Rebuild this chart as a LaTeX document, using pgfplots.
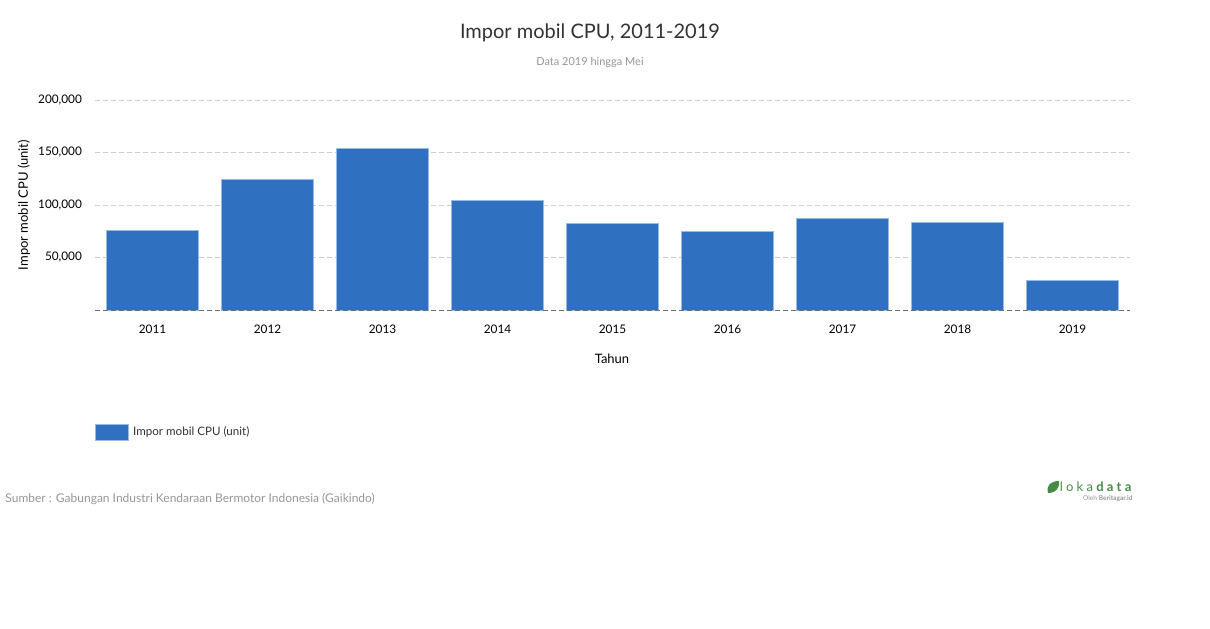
\documentclass[border=0pt]{standalone}
\usepackage{fontspec}
\setmainfont{Lato}
\usepackage{pgfplots}
\pgfplotsset{compat=1.18}
\definecolor{barblue}{RGB}{48,112,192}
\definecolor{baredge}{RGB}{150,188,230}
\definecolor{gridgray}{RGB}{204,204,204}
\definecolor{zerogray}{RGB}{110,110,110}
\definecolor{titlegray}{RGB}{51,51,51}
\definecolor{subgray}{RGB}{150,150,150}
\definecolor{lokagreen}{RGB}{70,140,70}
\begin{document}
\begin{tikzpicture}
\path[use as bounding box] (0,0) rectangle (605pt,314pt);
\begin{axis}[
  at={(47.5pt,159pt)}, anchor=south west,
  scale only axis, width=517.5pt, height=105pt,
  xmin=-0.5, xmax=8.5, ymin=0, ymax=200000,
  ybar, bar width=46pt, bar shift=0pt,
  axis line style={draw=none},
  major tick length=0pt,
  xtick={0,...,8},
  xticklabels={2011,2012,2013,2014,2015,2016,2017,2018,2019},
  xticklabel style={font=\fontsize{5.9pt}{7pt}\selectfont, text=black, yshift=-4pt},
  ytick={0,50000,100000,150000,200000},
  yticklabels={,{50,000},{100,000},{150,000},{200,000}},
  yticklabel style={font=\fontsize{5.9pt}{7pt}\selectfont, text=black, xshift=-3pt},
  scaled y ticks=false,
  ymajorgrids,
  major grid style={draw=gridgray, line width=0.5pt, dash pattern=on 2.5pt off 1.5pt},
  legend style={at={(0,-0.533)}, anchor=north west, draw=none, inner sep=0pt,
    font=\fontsize{5.8pt}{7pt}\selectfont, text=titlegray,
    /tikz/every even column/.append style={column sep=2pt}},
  legend image code/.code={\draw[fill=barblue, draw=baredge, line width=0.4pt] (0pt,-4pt) rectangle (16.5pt,4pt);},
]
\addplot[fill=barblue, draw=baredge, line width=0.5pt] coordinates {
  (0,75900) (1,124500) (2,154000) (3,104500) (4,82500) (5,74900) (6,87300) (7,83500) (8,28300)
};
\addlegendentry{Impor mobil CPU (unit)}
\draw[zerogray, line width=0.5pt, dash pattern=on 2.5pt off 1.5pt] (axis cs:-0.5,0) -- (axis cs:8.5,0);
\end{axis}
\node[text=titlegray, font=\fontsize{10pt}{12pt}\selectfont] at (295pt,297.5pt) {Impor mobil CPU, 2011-2019};
\node[text=subgray, font=\fontsize{5.5pt}{6.6pt}\selectfont] at (295pt,283pt) {Data 2019 hingga Mei};
\node[rotate=90, text=black, font=\fontsize{6.5pt}{7.8pt}\selectfont] at (12pt,211.5pt) {Impor mobil CPU (unit)};
\node[text=black, font=\fontsize{6.5pt}{7.8pt}\selectfont] at (306pt,134.5pt) {Tahun};
\node[anchor=west, inner sep=0pt, text=subgray, font=\fontsize{6pt}{7.2pt}\selectfont] at (2.5pt,64.5pt) {Sumber : Gabungan Industri Kendaraan Bermotor Indonesia (Gaikindo)};
% logo
\fill[lokagreen] (524pt,67.5pt) .. controls (523pt,71pt) and (525pt,73.5pt) .. (529.5pt,73.5pt) .. controls (530pt,70pt) and (528pt,67.5pt) .. (524pt,67.5pt);
\node[anchor=east, inner sep=0pt, text=lokagreen, font=\fontsize{6.5pt}{7.8pt}\selectfont] at (567.5pt,70.5pt) {\addfontfeature{LetterSpace=25}loka\textbf{data}};
\node[anchor=east, inner sep=0pt, text=subgray, font=\fontsize{3.3pt}{4pt}\selectfont] at (566.5pt,64.8pt) {Oleh \textbf{Beritagar.id}};
\end{tikzpicture}
\end{document}
